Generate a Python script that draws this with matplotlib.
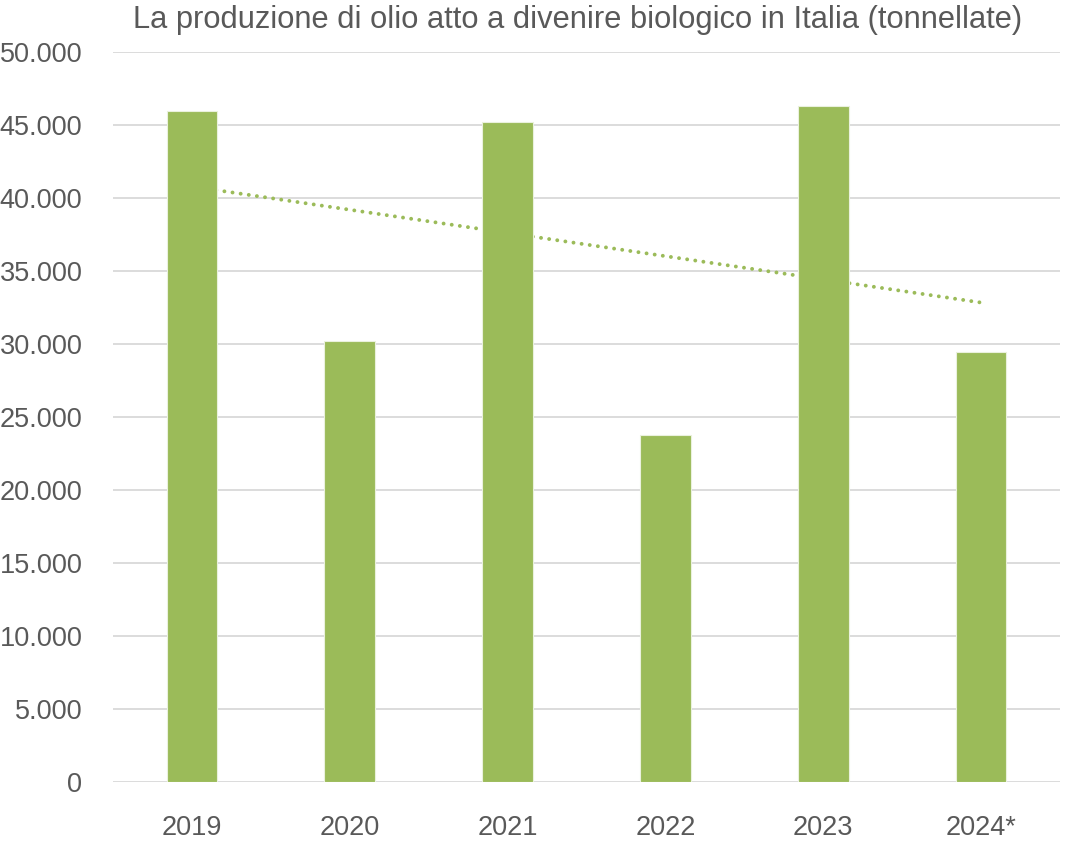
import numpy as np
import matplotlib.pyplot as plt
from matplotlib.ticker import FuncFormatter

years = ['2019', '2020', '2021', '2022', '2023', '2024*']
tonnes = [45950, 30200, 45200, 23770, 46300, 29450]

green = '#9BBB59'
grey_text = '#595959'
grid_col = '#D9D9D9'

fig = plt.figure(figsize=(10.69, 8.43), dpi=100)
ax = fig.add_axes([113 / 1069, 61 / 843, 947 / 1069, 730 / 843])

x = np.arange(len(years))
ax.bar(x, tonnes, width=0.32, color=green, edgecolor='#EAF1DD', linewidth=0.8, zorder=3)

# linear trend line (round dots), drawn behind the bars
k, q = np.polyfit(x, tonnes, 1)
ax.plot(x, k * x + q, linestyle=(0, (0.01, 2.1)), color=green, linewidth=2.8,
        dash_capstyle='round', zorder=2)

ax.set_xlim(-0.5, len(years) - 0.5)
ax.set_ylim(0, 50000)
ax.set_yticks(np.arange(0, 50001, 5000))
ax.yaxis.set_major_formatter(FuncFormatter(lambda v, p: f'{int(v):,}'.replace(',', '.')))
ax.set_xticks(x)
ax.set_xticklabels(years)

ax.grid(axis='y', color=grid_col, linewidth=1.3, zorder=0)
ax.set_axisbelow(True)
for s in ax.spines.values():
    s.set_visible(False)
ax.tick_params(length=0, colors=grey_text, labelsize=19.5)
ax.tick_params(axis='y', pad=22)
ax.tick_params(axis='x', pad=24)
for lab in ax.get_xticklabels() + ax.get_yticklabels():
    lab.set_fontfamily(['Liberation Sans', 'DejaVu Sans'])

fig.text(578 / 1069, 1 - 20 / 843, 'La produzione di olio atto a divenire biologico in Italia (tonnellate)',
         ha='center', va='center', fontsize=22.2, color=grey_text,
         fontfamily=['Liberation Sans', 'DejaVu Sans'])

fig.savefig('out.png', dpi=100)
